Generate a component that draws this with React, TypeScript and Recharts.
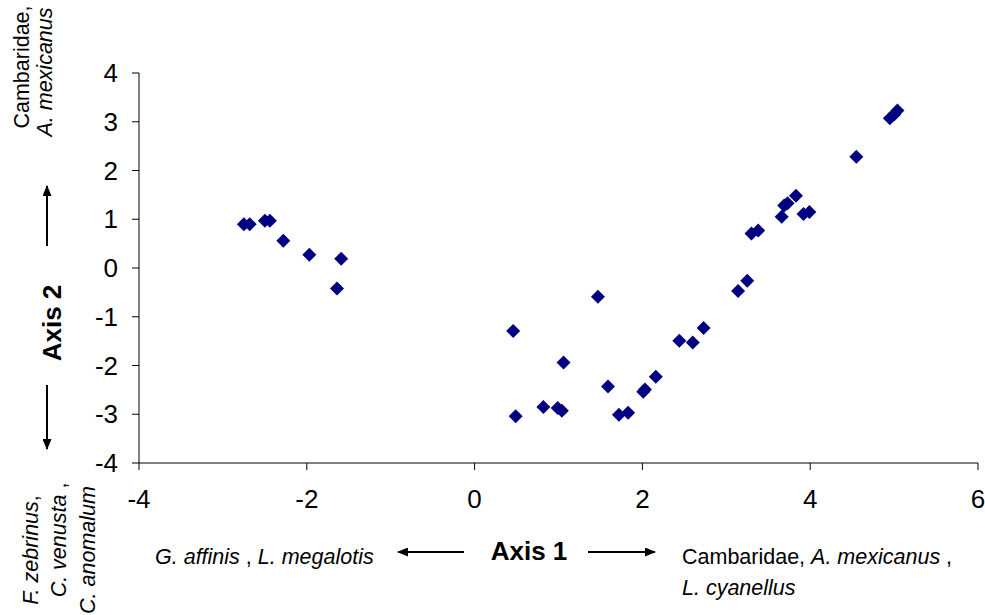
import { Scatter, ScatterChart, XAxis, YAxis } from "recharts";

// Site scores on the first two ordination axes
const axis1Scores = [
  -2.75, -2.68, -2.5, -2.44, -2.28, -1.97, -1.59, -1.64,
  1.47, 0.46, 2.44, 1.06, 2.16, 1.59, 2.03, 2.01, 0.82, 0.99, 1.04, 0.49, 1.72, 1.83,
  2.6, 2.73, 3.14, 3.25, 3.3, 3.38, 3.66, 3.69, 3.73, 3.83, 3.92, 3.99,
  4.55, 4.95, 5.0, 5.04,
];
const axis2Scores = [
  0.9, 0.9, 0.97, 0.97, 0.56, 0.27, 0.19, -0.42,
  -0.59, -1.29, -1.49, -1.94, -2.23, -2.43, -2.49, -2.54, -2.85, -2.87, -2.93, -3.04, -3.01, -2.97,
  -1.53, -1.23, -0.47, -0.26, 0.71, 0.77, 1.05, 1.28, 1.33, 1.48, 1.11, 1.15,
  2.28, 3.07, 3.15, 3.23,
];

const xTicks = [-4, -2, 0, 2, 4, 6];
const yTicks = [-4, -3, -2, -1, 0, 1, 2, 3, 4];

const points = axis1Scores.map((x, i) => ({ x, y: axis2Scores[i] }));

const NAVY = "#000080";
const FONT = "'Liberation Sans', Arial, sans-serif";

function Diamond(props: any) {
  const { cx, cy } = props;
  const r = 7;
  return (
    <polygon
      points={`${cx},${cy - r} ${cx + r},${cy} ${cx},${cy + r} ${cx - r},${cy}`}
      fill={NAVY}
    />
  );
}

function Annotations() {
  const small = { fontFamily: FONT, fontSize: 21.5, fill: "#000" };
  return (
    <svg
      width={985}
      height={615}
      style={{ position: "absolute", left: 0, top: 0, pointerEvents: "none" }}
    >
      <defs>
        <marker id="head" markerWidth="11" markerHeight="9" refX="10" refY="4.5" orient="auto" markerUnits="userSpaceOnUse">
          <path d="M0,0 L11,4.5 L0,9 Z" fill="#000" />
        </marker>
      </defs>

      {/* Axis 1 caption */}
      <text x={529} y={560} textAnchor="middle" fontFamily={FONT} fontSize={26} fontWeight="bold">
        Axis 1
      </text>
      <line x1={464} y1={552} x2={398} y2={552} stroke="#000" strokeWidth={2} markerEnd="url(#head)" />
      <line x1={588} y1={552} x2={655} y2={552} stroke="#000" strokeWidth={2} markerEnd="url(#head)" />
      <text x={155} y={564} {...small}>
        <tspan fontStyle="italic">G. affinis</tspan> , <tspan fontStyle="italic">L. megalotis</tspan>
      </text>
      <text x={682} y={564} {...small}>
        Cambaridae, <tspan fontStyle="italic">A. mexicanus</tspan> ,
      </text>
      <text x={682} y={595} {...small}>
        <tspan fontStyle="italic">L. cyanellus</tspan>
      </text>

      {/* Axis 2 caption */}
      <text
        x={0}
        y={0}
        transform="translate(61,323) rotate(-90)"
        textAnchor="middle"
        fontFamily={FONT}
        fontSize={26}
        fontWeight="bold"
      >
        Axis 2
      </text>
      <line x1={47} y1={246} x2={47} y2={186} stroke="#000" strokeWidth={2} markerEnd="url(#head)" />
      <line x1={47} y1={385} x2={47} y2={449} stroke="#000" strokeWidth={2} markerEnd="url(#head)" />

      <text transform="translate(29,67) rotate(-90)" textAnchor="middle" {...small}>
        Cambaridae,
      </text>
      <text transform="translate(52,72) rotate(-90)" textAnchor="middle" {...small}>
        <tspan fontStyle="italic">A. mexicanus</tspan>
      </text>

      <text transform="translate(38,550) rotate(-90)" textAnchor="middle" {...small}>
        <tspan fontStyle="italic">F. zebrinus</tspan>,
      </text>
      <text transform="translate(66,540) rotate(-90)" textAnchor="middle" {...small}>
        <tspan fontStyle="italic">C. venusta</tspan> ,
      </text>
      <text transform="translate(95,550) rotate(-90)" textAnchor="middle" {...small}>
        <tspan fontStyle="italic">C. anomalum</tspan>
      </text>
    </svg>
  );
}

export default function App() {
  const tick = { fontSize: 26, fill: "#000", fontFamily: FONT };
  return (
    <div style={{ position: "absolute", left: 0, top: 0, width: 985, height: 615, background: "#fff" }}>
      <ScatterChart width={985} height={615} margin={{ top: 73, right: 7, bottom: 92, left: 79 }}>
        <XAxis
          type="number"
          dataKey="x"
          domain={[-4, 6]}
          ticks={xTicks}
          height={60}
          tick={tick}
          tickSize={7}
          tickMargin={20}
          stroke="#000"
          allowDataOverflow
        />
        <YAxis
          type="number"
          dataKey="y"
          domain={[-4, 4]}
          ticks={yTicks}
          width={60}
          tick={tick}
          tickSize={7}
          tickMargin={14}
          stroke="#000"
          allowDataOverflow
        />
        <Scatter data={points} shape={<Diamond />} isAnimationActive={false} />
      </ScatterChart>
      <Annotations />
    </div>
  );
}
